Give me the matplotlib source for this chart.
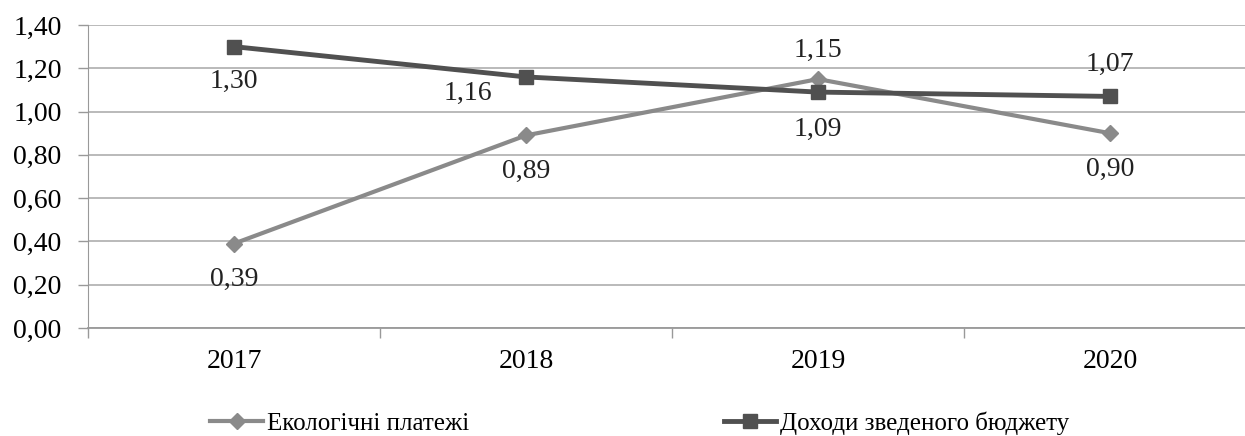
import matplotlib
matplotlib.use("Agg")
import matplotlib.pyplot as plt
from matplotlib.ticker import FixedLocator

years = ["2017", "2018", "2019", "2020"]
eco = [0.39, 0.89, 1.15, 0.90]
budget = [1.30, 1.16, 1.09, 1.07]
eco_name = "Екологічні платежі"
budget_name = "Доходи зведеного бюджету"
yticks = [0.0, 0.2, 0.4, 0.6, 0.8, 1.0, 1.2, 1.4]

plt.rcParams['font.family'] = ['Liberation Serif', 'DejaVu Serif']

fig = plt.figure(figsize=(12.45, 4.36), dpi=100)
W, H = 1245, 436
ax = fig.add_axes([88 / W, 1 - 328 / H, (1245 - 88) / W, (328 - 25) / H])

x = list(range(len(years)))
c_eco = "#8a8a8a"
c_bud = "#505050"
ax.plot(x, eco, color=c_eco, lw=3, marker="D", ms=8, mfc=c_eco, mec=c_eco,
        label=eco_name, zorder=3)
ax.plot(x, budget, color=c_bud, lw=3.5, marker="s", ms=10.5, mfc=c_bud, mec=c_bud,
        label=budget_name, zorder=4)

FS = 20
ax.set_xlim(-0.5, -0.5 + (1245 - 88) / 292.0)
ax.set_ylim(0, 1.4)
ax.set_yticks(yticks)
ax.set_yticklabels([f"{v:.2f}".replace(".", ",") for v in yticks], fontsize=FS)
ax.set_xticks(x)
ax.set_xticklabels(years, fontsize=FS)
ax.xaxis.set_minor_locator(FixedLocator([-0.5, 0.5, 1.5, 2.5]))
ax.tick_params(axis="x", which="major", length=0, pad=15)
ax.tick_params(axis="x", which="minor", length=7, color="#999999", width=1)
ax.tick_params(axis="y", length=7, color="#999999", width=1, pad=12)

ax.grid(axis="y", color="#b4b4b4", lw=1.3)
ax.set_axisbelow(True)
for s in ["top", "right"]:
    ax.spines[s].set_visible(False)
ax.spines["left"].set_color("#999999")
ax.spines["bottom"].set_color("#999999")
ax.spines["bottom"].set_linewidth(1.3)

def fmt(v):
    return f"{v:.2f}".replace(".", ",")

eco_off = [(0, -36), (0, -36), (0, 29), (0, -36)]
bud_off = [(0, -35), (-58, -16), (0, -37), (0, 32)]
for i, v in enumerate(eco):
    ax.annotate(fmt(v), (i, v), xytext=eco_off[i], textcoords="offset pixels",
                ha="center", va="center", fontsize=FS, color="#222222")
for i, v in enumerate(budget):
    ax.annotate(fmt(v), (i, v), xytext=bud_off[i], textcoords="offset pixels",
                ha="center", va="center", fontsize=FS, color="#222222")

leg = fig.legend(loc="center", bbox_to_anchor=(0.514, 1 - 423 / H), ncol=2,
                 frameon=False, fontsize=18, columnspacing=10.2, handlelength=2.1,
                 handletextpad=0.15)

fig.savefig("out.png", dpi=100)
